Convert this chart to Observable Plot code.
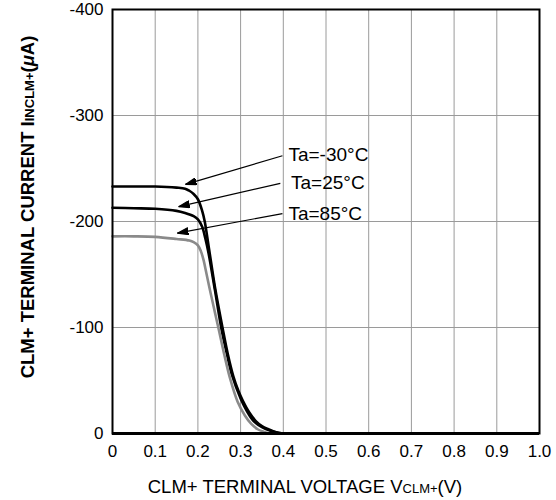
<!DOCTYPE html>
<html><head><meta charset="utf-8">
<script src="https://cdn.jsdelivr.net/npm/d3@7"></script>
<script src="https://cdn.jsdelivr.net/npm/@observablehq/plot@0.6"></script>
<style>body{margin:0;background:#fff;} svg{display:block}</style>
</head><body><div id="chart"></div>
<script>
// ---- data ----
const xTicks = [0, 0.1, 0.2, 0.3, 0.4, 0.5, 0.6, 0.7, 0.8, 0.9, 1.0];
const yTicks = [-400, -300, -200, -100, 0];
const seriesNames = ["Ta=-30°C", "Ta=25°C", "Ta=85°C"];
const seriesColors = ["#000000", "#000000", "#8a8a8a"];

const voltM30 = [0, 0.05, 0.1, 0.15, 0.17, 0.18, 0.19, 0.2, 0.21, 0.216, 0.225, 0.24, 0.258, 0.27, 0.283, 0.295, 0.305, 0.32, 0.335, 0.35, 0.365, 0.38, 0.4];
const currM30 = [-233, -233, -233, -232, -231, -229, -226, -221, -210, -200, -177, -138, -99, -75, -54, -40, -31, -20, -12, -7, -4, -1.5, 0];

const volt25 = [0, 0.05, 0.1, 0.15, 0.17, 0.19, 0.2, 0.21, 0.218, 0.225, 0.24, 0.255, 0.268, 0.28, 0.3, 0.315, 0.33, 0.35, 0.37, 0.39, 0.4];
const curr25 = [-213, -212.5, -212, -210, -208, -205, -202, -195, -183, -170, -135, -99, -75, -55, -33, -21, -12, -6, -2.5, -0.5, 0];

const volt85 = [0, 0.05, 0.1, 0.15, 0.18, 0.19, 0.2, 0.207, 0.213, 0.22, 0.23, 0.24, 0.25, 0.262, 0.276, 0.293, 0.31, 0.325, 0.34, 0.355, 0.37];
const curr85 = [-186, -186, -185.5, -183.5, -182, -180.5, -177.5, -172, -164, -151, -132, -114, -96, -74, -51, -30, -17, -9, -4, -1.5, 0];

// annotation arrows (from label to curve) and label anchors, in data units
const arrowFromV = [0.398, 0.393, 0.398];
const arrowFromI = [-262, -236, -207.5];
const arrowToV = [0.171, 0.155, 0.152];
const arrowToI = [-235, -214, -189];
const labelV = [0.412, 0.418, 0.412];
const labelI = [-263, -236, -207];

// ---- build tables ----
const curves = [
  ...voltM30.map((v, i) => ({series: seriesNames[0], v, c: currM30[i]})),
  ...volt25.map((v, i) => ({series: seriesNames[1], v, c: curr25[i]})),
  ...volt85.map((v, i) => ({series: seriesNames[2], v, c: curr85[i]}))
];
const arrows = seriesNames.map((s, i) => ({s, x1: arrowFromV[i], y1: arrowFromI[i], x2: arrowToV[i], y2: arrowToI[i]}));
const labels = seriesNames.map((s, i) => ({s, x: labelV[i], y: labelI[i]}));

function headMarker(color, context) {
  const m = d3.create("svg:marker")
    .attr("viewBox", "-11 -4 12 8")
    .attr("markerWidth", 12)
    .attr("markerHeight", 8)
    .attr("markerUnits", "userSpaceOnUse")
    .attr("refX", 0).attr("refY", 0)
    .attr("orient", "auto")
    .attr("fill", "black");
  m.append("path").attr("d", "M-11,-3.5L0,0L-11,3.5Z");
  return m.node();
}

const font = "'Liberation Sans', Arial, Helvetica, sans-serif";

const svg = Plot.plot({
  width: 556,
  height: 500,
  marginLeft: 112,
  marginRight: 17,
  marginTop: 9,
  marginBottom: 67,
  style: {fontFamily: font, fontSize: "17px", background: "white", color: "black", overflow: "visible"},
  x: {domain: [0, 1], ticks: xTicks, tickFormat: d => d === 0 ? "0" : d.toFixed(1), label: null, tickSize: 0, tickPadding: 11},
  y: {domain: [0, -400], ticks: yTicks, tickFormat: d => String(d), label: null, tickSize: 0, tickPadding: 9},
  color: {domain: seriesNames, range: seriesColors},
  marks: [
    Plot.gridX(xTicks, {stroke: "#9a9a9a", strokeOpacity: 1, strokeWidth: 1}),
    Plot.gridY(yTicks, {stroke: "#9a9a9a", strokeOpacity: 1, strokeWidth: 1}),
    Plot.line(curves, {x: "v", y: "c", z: "series", stroke: "series", strokeWidth: 2.6, curve: "catmull-rom"}),
    Plot.frame({stroke: "black", strokeWidth: 2}),
    Plot.ruleY([0], {stroke: "black", strokeWidth: 3}),
    Plot.link(arrows, {x1: "x1", y1: "y1", x2: "x2", y2: "y2", stroke: "black", strokeWidth: 1.2, markerEnd: headMarker}),
    Plot.text(labels, {x: "x", y: "y", text: "s", textAnchor: "start", fontSize: 19, fill: "black"})
  ]
});

const s = d3.select(svg);
// x axis title
const xt = s.append("text")
  .attr("x", 305).attr("y", 493)
  .attr("text-anchor", "middle")
  .attr("font-family", font).attr("font-size", 18.5).attr("fill", "black");
xt.append("tspan").text("CLM+ TERMINAL VOLTAGE V");
xt.append("tspan").attr("font-size", 13).text("CLM+");
xt.append("tspan").text("(V)");

// y axis title
const yt = s.append("text")
  .attr("transform", "translate(34,207) rotate(-90)")
  .attr("text-anchor", "middle")
  .attr("font-family", font).attr("font-size", 18.5).attr("font-weight", "bold").attr("fill", "black");
yt.append("tspan").text("CLM+ TERMINAL CURRENT I");
yt.append("tspan").attr("font-size", 13).text("INCLM+");
yt.append("tspan").text("(");
yt.append("tspan").attr("font-style", "italic").text("μ");
yt.append("tspan").text("A)");

document.getElementById("chart").appendChild(svg);
</script>
</body></html>
